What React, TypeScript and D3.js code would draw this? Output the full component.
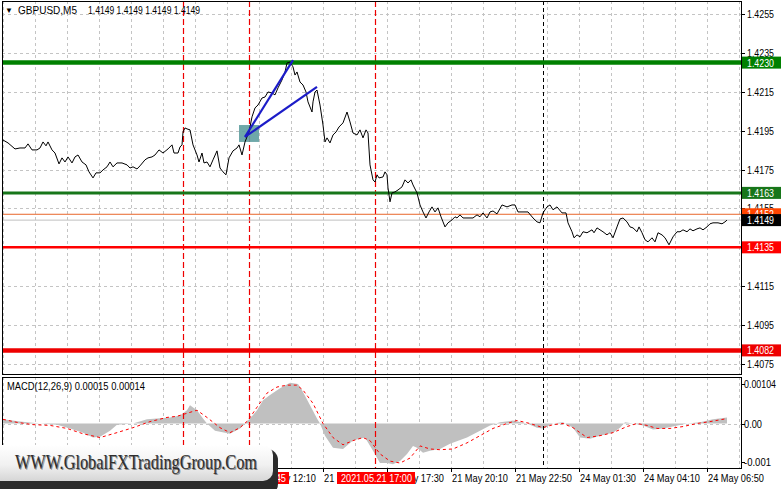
import React from 'react';
import * as d3 from 'd3';

// GBPUSD M5, bar index counted from 21 May 01:30 (one bar = 5 min)
const closeSeries: [number, number][] = [
  [0, 1.41902], [2.5, 1.41887], [6, 1.41856], [8.5, 1.41861], [11, 1.41861], [12.5, 1.41882], [14.5, 1.41851],
  [17, 1.41851], [18.5, 1.41861], [20, 1.41892], [21.5, 1.41872], [22.5, 1.41892], [24.5, 1.41851], [26, 1.41835],
  [28, 1.41779], [29.5, 1.4181], [31, 1.41789], [32.5, 1.41815], [34.5, 1.41784], [36, 1.41815], [37.5, 1.41825],
  [39.5, 1.41789], [41.5, 1.41774], [43, 1.41738], [45, 1.41707], [46.5, 1.41733], [48.5, 1.41733], [50, 1.41748],
  [52, 1.41764], [53.5, 1.41789], [55, 1.41764], [57, 1.41784], [59.5, 1.41784], [62, 1.41774], [63.5, 1.41758],
  [65, 1.41764], [67, 1.41753], [68.5, 1.41769], [71, 1.418], [72.5, 1.4181], [74.5, 1.41815], [76, 1.41825],
  [78, 1.41851], [80, 1.41835], [82.5, 1.41856], [84.5, 1.41877], [85.5, 1.41835], [87.5, 1.41835], [88.5, 1.41866],
  [89.5, 1.41877], [90, 1.41943], [91, 1.41964], [92, 1.41959], [93.5, 1.41954], [95, 1.41877], [97, 1.41825],
  [98, 1.41789], [99.5, 1.41835], [100.5, 1.41784], [102, 1.41789], [103.5, 1.41764], [105, 1.418], [107, 1.41846],
  [108.5, 1.41758], [110, 1.41738], [111.5, 1.41723], [113, 1.4181], [115, 1.41846], [117, 1.41861], [118, 1.41877],
  [119.5, 1.41825], [121, 1.41892], [122, 1.41918], [123, 1.41943], [124.5, 1.42021], [126, 1.42067], [127.5, 1.42082],
  [129.5, 1.42118], [131, 1.42123], [132.5, 1.42149], [134.5, 1.42144], [136, 1.42134], [137.5, 1.4217], [139.5, 1.42211],
  [141, 1.42252], [142, 1.42298], [143.5, 1.42303], [145, 1.42278], [146, 1.42236], [147, 1.42252], [148.5, 1.422],
  [150, 1.42185], [151.5, 1.42149], [152.5, 1.42098], [154.5, 1.42046], [155, 1.42098], [156, 1.42149], [157, 1.42159],
  [158.5, 1.42082], [160, 1.41979], [161, 1.41892], [162, 1.41913], [163.5, 1.41887], [165, 1.41928], [166.5, 1.41943],
  [168, 1.41969], [170, 1.4199], [172, 1.42046], [173.5, 1.41995], [175, 1.41938], [177, 1.41928], [178.5, 1.41954],
  [180, 1.41913], [181.5, 1.41954], [182.5, 1.41938], [183.5, 1.41774], [185, 1.41697], [186, 1.41686], [187, 1.41723],
  [188, 1.41707], [190, 1.41712], [191, 1.41738], [192, 1.41723], [192.5, 1.41656], [193.5, 1.41584], [194.5, 1.4163],
  [196, 1.41635], [197.5, 1.41645], [199.5, 1.41661], [201, 1.41697], [202.5, 1.41681], [204, 1.41697], [205, 1.41671],
  [207, 1.4163], [208.5, 1.41568], [210, 1.41532], [211.5, 1.41501], [213, 1.41532], [214.5, 1.41558], [216, 1.41532],
  [217.5, 1.41553], [219, 1.41507], [220, 1.41481], [221, 1.41455], [222.5, 1.41476], [224.5, 1.41491], [226, 1.41507],
  [227, 1.41501], [228.5, 1.41517], [230, 1.41501], [232.5, 1.41501], [235, 1.41501], [237, 1.41517], [238.5, 1.41507],
  [240, 1.41527], [242, 1.41501], [243.5, 1.41532], [245, 1.41537], [247, 1.41522], [249.5, 1.41568], [252, 1.41558],
  [254.5, 1.41568], [256, 1.41568], [257.5, 1.41532], [260, 1.41532], [262.5, 1.41532], [265, 1.41501], [267, 1.41481],
  [268.5, 1.41476], [270, 1.41527], [272, 1.41558], [273.5, 1.41568], [275, 1.41543], [277, 1.41558], [279.5, 1.41527],
  [281.5, 1.41527], [282.5, 1.41476], [284.5, 1.4143], [285.5, 1.41399], [287, 1.41414], [288.5, 1.41404], [290, 1.4143],
  [292, 1.41425], [294.5, 1.4144], [295.5, 1.41425], [297, 1.4145], [298.5, 1.4144], [300, 1.4143], [302, 1.41414],
  [303.5, 1.41425], [305, 1.41399], [307, 1.41455], [308.5, 1.41496], [310, 1.41501], [312, 1.41481], [313.5, 1.41455],
  [315, 1.4145], [317, 1.4143], [318, 1.41455], [319.5, 1.41425], [321, 1.41389], [322.5, 1.41378], [324.5, 1.41399],
  [326, 1.41378], [327.5, 1.41425], [329.5, 1.41414], [331, 1.41399], [333, 1.41363], [335, 1.41404], [337, 1.4143],
  [338.5, 1.4143], [340, 1.4144], [342, 1.4143], [343.5, 1.41445], [345, 1.41435], [347, 1.41445], [348.5, 1.4145],
  [350, 1.4144], [352, 1.41455], [353.5, 1.41471], [355, 1.41476], [357.5, 1.41476], [359.5, 1.41471], [361, 1.41481],
  [362, 1.4149],
];

// MACD(12,26,9): main line (histogram) and signal
const macdMain: [number, number][] = [
  [0, 0.00011], [8.5, 0.00005], [18.5, 0], [27, -0.00003], [33.5, -0.00013], [40, -0.00024], [45, -0.00037],
  [48.5, -0.00035], [53.5, -0.00019], [57, -0.00003], [65, 0], [72, 0.00011], [77, 0.00013], [83.5, 0.00016],
  [88.5, 0.00021], [92, 0.00035], [93.5, 0.00048], [97, 0.00035], [100, 0.00013], [102, 0], [106, -0.00019],
  [113.5, -0.00027], [118.5, -0.00013], [121, 0], [123.5, 0.00013], [127, 0.00035], [130, 0.00061], [133.5, 0.00075],
  [138.5, 0.00093], [143.5, 0.00107], [147.5, 0.00104], [150, 0.00083], [153.5, 0.00048], [157, 0.00013], [158.5, 0],
  [161, -0.00032], [165, -0.00064], [170, -0.00067], [175, -0.00045], [181, -0.00037], [185, -0.00072],
  [188.5, -0.00104], [192, -0.00104], [195, -0.00107], [198.5, -0.00099], [202, -0.0008], [205, -0.00059],
  [207, -0.00064], [210, -0.00077], [213.5, -0.00072], [218.5, -0.00067], [223.5, -0.00053], [232, -0.00037],
  [238.5, -0.00019], [243.5, -0.00005], [248.5, 0.00003], [255, 0.00008], [262, 0], [267, -0.00011], [270, -0.00013],
  [275, 0], [280, 0.00003], [285, -0.00011], [288.5, -0.00037], [293.5, -0.0004], [298.5, -0.00032], [305, -0.00024],
  [308.5, -0.00011], [311, 0.00003], [315, 0], [320, -0.00005], [325, -0.00016], [330, -0.00013], [335, -0.00008],
  [342, 0], [348.5, 0.00003], [355, 0.00011], [362, 0.00016],
];

const macdSignal: [number, number][] = [
  [0, 0.00011], [7, 0.00003], [15, -0.00003], [23.5, -0.00005], [32, -0.00013], [40, -0.00027], [48.5, -0.00037],
  [57, -0.00024], [65, -0.00011], [73.5, 0.00005], [82, 0.00016], [87, 0.00019], [92, 0.00027], [97, 0.00035],
  [102, 0.00016], [108.5, -0.00011], [113.5, -0.00024], [118.5, -0.00011], [122.5, 0.00008], [127, 0.00043],
  [132, 0.0008], [137, 0.00096], [142, 0.00101], [147, 0.00101], [150, 0.00088], [155, 0.00053], [160, 0],
  [165, -0.00037], [170, -0.00056], [175, -0.00045], [180, -0.00037], [183.5, -0.00045], [188.5, -0.0008],
  [193.5, -0.00099], [198.5, -0.00104], [203.5, -0.00091], [208.5, -0.00059], [213.5, -0.00067], [218.5, -0.00069],
  [225, -0.00067], [232, -0.00051], [238.5, -0.00032], [245, -0.00013], [252, 0], [257, 0.00008], [263.5, 0],
  [270, -0.00011], [275, -0.00003], [280, 0], [285, -0.00011], [292, -0.00037], [298.5, -0.00032], [305, -0.00024],
  [312, -0.00008], [317, 0], [322, -0.00005], [327, -0.00013], [333.5, -0.00013], [340, -0.00008], [347, 0],
  [353.5, 0.00005], [362, 0.00013],
];

const priceTicks = [1.4255, 1.4235, 1.4215, 1.4195, 1.4175, 1.4155, 1.4135, 1.4115, 1.4095, 1.4075];
const macdTicks = [0.00104, 0, -0.001];
const macdTickLabels = ['0.00104', '0.00', '-0.001'];
const timeTickBars = [0, 32, 64, 96, 128, 160, 192, 224, 256, 288, 320, 352];
const timeTickLabels = [
  '21 May 2021', '21 May 04:10', '21 May 06:50', '21 May 09:30', '21 May 12:10', '21 May 14:50',
  '21 May 17:30', '21 May 20:10', '21 May 22:50', '24 May 01:30', '24 May 04:10', '24 May 06:50',
];

const levelPrices = [1.423, 1.4163, 1.4135, 1.4082];
const bidPrice = 1.4149;
const askPrice = 1.4152;

const eventBars = [90, 123, 186];
const eventLabels = ['2021.05.21 09:00', '2021.05.21 11:45', '2021.05.21 17:00'];
const weekSeparatorBar = 270;

const trendStart: [number, number] = [121, 1.41918];
const trendEnds: [number, number][] = [[145, 1.42313], [157, 1.42175]];
const zoneBars = [118, 128];
const zonePrices = [1.41892, 1.41979];

const levelStyle = [
  { color: '#008000', width: 4.5 },
  { color: '#17761a', width: 3 },
  { color: '#ff0000', width: 2.5 },
  { color: '#ee0000', width: 4.5 },
];

const FONT = "'Liberation Sans', Arial, sans-serif";

const App: React.FC = () => {
  const W = 781;
  const H = 489;
  const left = 2, right = 741;
  const mainTop = 1, mainBottom = 374;
  const macdTop = 377, macdBottom = 468;

  const x = d3.scaleLinear().domain([0, 369]).range([3, 741]);
  const y = d3.scaleLinear().domain([1.4075, 1.4255]).range([364, 14]);
  const ym = d3.scaleLinear().domain([-0.001, 0.00104]).range([461.5, 384]);

  const priceLine = d3.line<[number, number]>().x(d => x(d[0])).y(d => y(d[1]))(closeSeries) || '';
  const histArea = d3.area<[number, number]>()
    .x(d => x(d[0])).y0(ym(0)).y1(d => ym(d[1]))(macdMain) || '';
  const signalLine = d3.line<[number, number]>().x(d => x(d[0])).y(d => ym(d[1]))(macdSignal) || '';

  const gridBars = d3.range(0, 370, 16);
  const fmt = d3.format('.4f');

  const axisText = { fontFamily: FONT, fontSize: 11, lengthAdjust: 'spacingAndGlyphs' as const };

  return (
    <svg width={W} height={H} style={{ position: 'absolute', left: 0, top: 0, display: 'block' }}>
      <defs>
        <clipPath id="mainClip"><rect x={left} y={mainTop} width={right - left} height={mainBottom - mainTop} /></clipPath>
        <clipPath id="macdClip"><rect x={left} y={macdTop} width={right - left} height={macdBottom - macdTop} /></clipPath>
        <linearGradient id="wmGrad" x1="0" y1="0" x2="0" y2="1">
          <stop offset="0" stopColor="#ffffff" />
          <stop offset="0.55" stopColor="#f1f1f1" />
          <stop offset="1" stopColor="#d6d6d6" />
        </linearGradient>
      </defs>
      <rect width={W} height={H} fill="#fff" />

      {/* grid */}
      <g stroke="#c4c4c4" strokeDasharray="3,3" strokeWidth={1}>
        {gridBars.map(b => (
          <g key={'g' + b}>
            <line x1={x(b) + 0.5} x2={x(b) + 0.5} y1={mainTop} y2={mainBottom} />
            <line x1={x(b) + 0.5} x2={x(b) + 0.5} y1={macdTop} y2={macdBottom} />
          </g>
        ))}
        {priceTicks.map(p => (
          <line key={'h' + p} x1={left} x2={right} y1={Math.round(y(p)) + 0.5} y2={Math.round(y(p)) + 0.5} />
        ))}
        <line x1={left} x2={right} y1={Math.round(ym(0)) + 0.5} y2={Math.round(ym(0)) + 0.5} />
      </g>

      {/* MACD */}
      <g clipPath="url(#macdClip)">
        <path d={histArea} fill="#c0c0c0" />
        <path d={signalLine} fill="none" stroke="#ff0000" strokeWidth={1} strokeDasharray="3,3" />
      </g>

      {/* event lines and week separator */}
      {eventBars.map(b => (
        <g key={'e' + b}>
          <line x1={x(b) + 0.5} x2={x(b) + 0.5} y1={mainTop} y2={mainBottom}
            stroke="#ee0000" strokeWidth={1.2} strokeDasharray="6,3" />
          <line x1={x(b) + 0.5} x2={x(b) + 0.5} y1={macdTop} y2={macdBottom}
            stroke="#ee0000" strokeWidth={1.2} strokeDasharray="6,3" />
        </g>
      ))}
      <line x1={x(weekSeparatorBar) + 0.5} x2={x(weekSeparatorBar) + 0.5} y1={mainTop} y2={mainBottom}
        stroke="#000" strokeDasharray="4,3" />
      <line x1={x(weekSeparatorBar) + 0.5} x2={x(weekSeparatorBar) + 0.5} y1={macdTop} y2={macdBottom}
        stroke="#000" strokeDasharray="4,3" />

      <g clipPath="url(#mainClip)">
        {/* bid / ask */}
        <line x1={left} x2={right} y1={y(bidPrice)} y2={y(bidPrice)} stroke="#c0c0c0" strokeWidth={1} />
        <line x1={left} x2={right} y1={y(askPrice)} y2={y(askPrice)} stroke="#e8662a" strokeWidth={1} />
        {/* support / resistance levels */}
        {levelPrices.map((p, i) => (
          <line key={'l' + p} x1={left} x2={right} y1={y(p)} y2={y(p)}
            stroke={levelStyle[i].color} strokeWidth={levelStyle[i].width} />
        ))}
        {/* entry zone */}
        <rect x={x(zoneBars[0])} y={y(zonePrices[1])} width={x(zoneBars[1]) - x(zoneBars[0])}
          height={y(zonePrices[0]) - y(zonePrices[1])} fill="#5f9ea0" opacity={0.9} />
        <path d={priceLine} fill="none" stroke="#000" strokeWidth={1} />
        {trendEnds.map((e, i) => (
          <line key={'t' + i} x1={x(trendStart[0])} y1={y(trendStart[1])} x2={x(e[0])} y2={y(e[1])}
            stroke="#1c1cc8" strokeWidth={2.2} />
        ))}
      </g>

      {/* frames */}
      <rect x={left + 0.5} y={mainTop + 0.5} width={right - left} height={mainBottom - mainTop} fill="none" stroke="#000" />
      <rect x={left + 0.5} y={macdTop + 0.5} width={right - left} height={macdBottom - macdTop} fill="none" stroke="#000" />

      {/* titles */}
      <text x={5} y={13} fontFamily={FONT} fontSize={8} fill="#000">▼</text>
      <text x={18} y={14} {...axisText} textLength={59} fill="#000">GBPUSD,M5</text>
      <text x={88} y={14} {...axisText} textLength={112} fill="#000">
        {[bidPrice, bidPrice, bidPrice, bidPrice].map(fmt).join(' ')}
      </text>
      <text x={7} y={390} {...axisText} textLength={138} fill="#000">MACD(12,26,9) 0.00015 0.00014</text>

      {/* price axis */}
      {priceTicks.map(p => (
        <g key={'pt' + p}>
          <line x1={right} x2={right + 4} y1={Math.round(y(p)) + 0.5} y2={Math.round(y(p)) + 0.5} stroke="#000" />
          <text x={747} y={y(p) + 4} {...axisText} textLength={27} fill="#000">{fmt(p)}</text>
        </g>
      ))}
      {macdTicks.map((v, i) => (
        <g key={'mt' + i}>
          <line x1={right} x2={right + 4} y1={Math.round(ym(v)) + 0.5} y2={Math.round(ym(v)) + 0.5} stroke="#000" />
          <text x={744} y={ym(v) + 4} {...axisText}
            textLength={[32, 18, 27][i]} fill="#000">{macdTickLabels[i]}</text>
        </g>
      ))}

      {/* price labels */}
      {[
        { p: askPrice, fill: '#ff4500' },
        ...levelPrices.map((p, i) => ({ p, fill: levelStyle[i].color })),
        { p: bidPrice, fill: '#000' },
      ].map(({ p, fill }) => (
        <g key={'pl' + p}>
          <rect x={742} y={y(p) - 6} width={39} height={12} fill={fill} />
          <text x={747} y={y(p) + 4} {...axisText} textLength={27} fill="#fff">{fmt(p)}</text>
        </g>
      ))}

      {/* time axis */}
      {timeTickBars.map((b, i) => (
        <g key={'tt' + b}>
          <line x1={x(b) + 0.5} x2={x(b) + 0.5} y1={macdBottom} y2={macdBottom + 4} stroke="#000" />
          <text x={x(b) + 1} y={482} {...axisText} textLength={56} fill="#000">{timeTickLabels[i]}</text>
        </g>
      ))}
      {eventBars.map((b, i) => (
        <g key={'el' + b}>
          <rect x={x(b) - 38} y={472} width={78} height={12} fill="#ff0000" />
          <text x={x(b) - 34} y={482} {...axisText} textLength={71} fill="#fff">{eventLabels[i]}</text>
        </g>
      ))}

      {/* watermark */}
      <g>
        <rect x={-12} y={449} width={290} height={46} rx={11} fill="#2b2b2b" />
        <rect x={-12} y={445} width={285} height={36} rx={10} fill="url(#wmGrad)" />
        <text x={16} y={469.5} fontFamily="'Liberation Serif', 'Times New Roman', serif" fontSize={21}
          textLength={242} lengthAdjust="spacingAndGlyphs" fill="#8a8a8a">WWW.GlobalFXTradingGroup.Com</text>
        <text x={15} y={468.5} fontFamily="'Liberation Serif', 'Times New Roman', serif" fontSize={21}
          textLength={242} lengthAdjust="spacingAndGlyphs" fill="#2e2e2e">WWW.GlobalFXTradingGroup.Com</text>
      </g>
    </svg>
  );
};

export default App;
